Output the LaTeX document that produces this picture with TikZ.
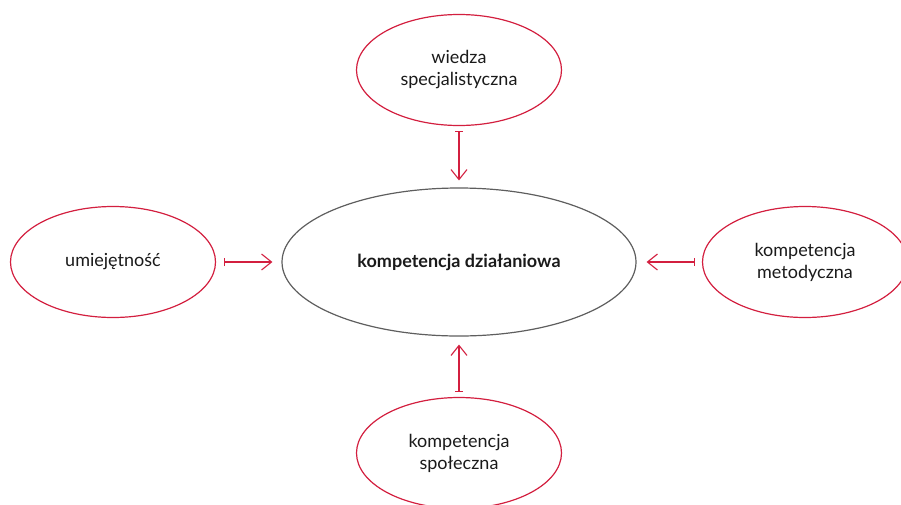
\documentclass[tikz,border=0pt]{standalone}
\usepackage{fontspec}
\setmainfont{Lato}
\usetikzlibrary{shapes.geometric,arrows.meta}
\definecolor{accent}{HTML}{D31F3F}
\definecolor{hubgray}{HTML}{5E5E5E}
\definecolor{txt}{HTML}{1A1A1A}
\tikzset{
  outer/.style={ellipse,draw=accent,line width=1.2pt,minimum width=205pt,minimum height=111pt,inner sep=0pt,align=center,font=\fontsize{18}{22}\selectfont,text=txt},
  hub/.style={ellipse,draw=hubgray,line width=1.2pt,minimum width=354pt,minimum height=148pt,inner sep=0pt,align=center,font=\fontsize{18}{22}\selectfont\bfseries,text=txt},
  link/.style={draw=accent,line width=1.1pt,{Bar[width=8pt,line width=1.1pt]}-{Straight Barb[length=10pt,width=16pt,line width=1.1pt]}}
}
\begin{document}
\begin{tikzpicture}[x=1pt,y=-1pt]
\useasboundingbox (0,0) rectangle (901,504);
\clip (0,0) rectangle (901,504);
\node[hub] (hub) at (459,262) {kompetencja działaniowa};
\node[outer] (top) at (459,70) {wiedza\\specjalistyczna};
\node[outer] (left) at (113,262) {umiejętność};
\node[outer] (right) at (805,262) {kompetencja\\metodyczna};
\node[outer] (bottom) at (459,453) {kompetencja\\społeczna};
\draw[link,shorten <=5pt,shorten >=7pt] (top.south) -- (hub.north);
\draw[link,shorten <=8pt,shorten >=9pt] (left.east) -- (hub.west);
\draw[link,shorten <=7pt,shorten >=10pt] (right.west) -- (hub.east);
\draw[link,shorten <=5pt,shorten >=8pt] (bottom.north) -- (hub.south);
\end{tikzpicture}
\end{document}
